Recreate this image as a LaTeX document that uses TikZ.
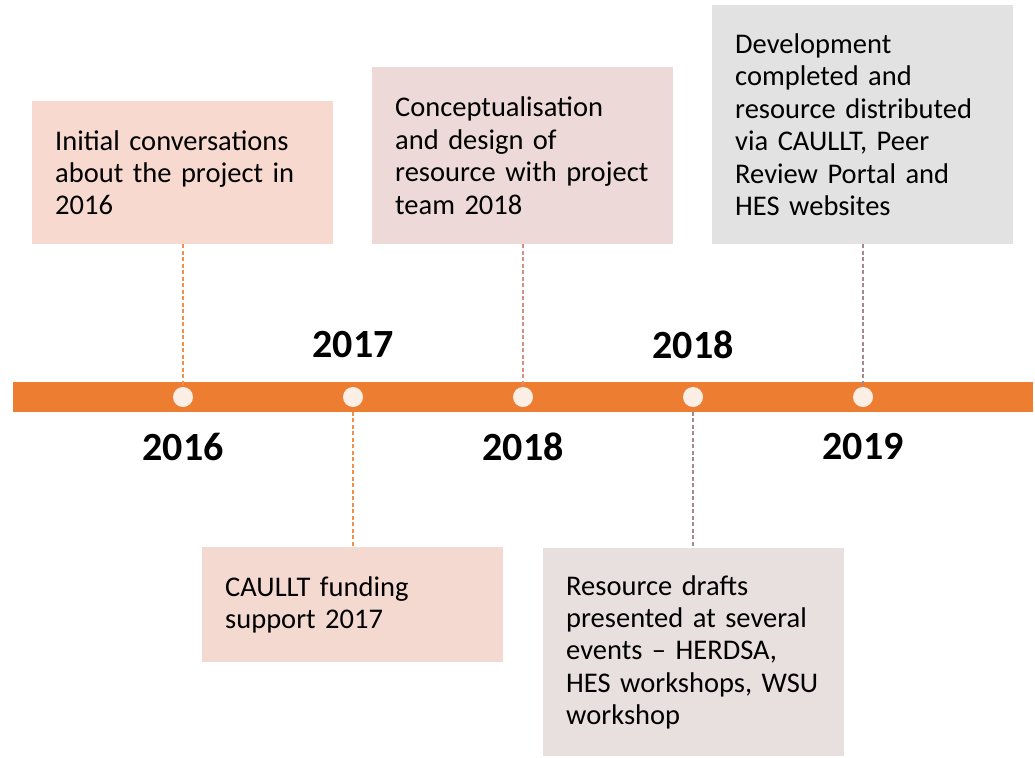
\documentclass[tikz,border=0pt]{standalone}
\usepackage{fontspec}
\setmainfont{Carlito}
\definecolor{barorange}{HTML}{ED7D31}
\definecolor{dotfill}{HTML}{FBEEE4}
\definecolor{boxA}{HTML}{F8D9CF}
\definecolor{boxB}{HTML}{EDDAD8}
\definecolor{boxC}{HTML}{E2E2E2}
\definecolor{boxD}{HTML}{F4D9D1}
\definecolor{boxE}{HTML}{E8DFDF}
\definecolor{dashA}{HTML}{F0904F}
\definecolor{dashB}{HTML}{D49080}
\definecolor{dashC}{HTML}{A88890}
\begin{document}
\begin{tikzpicture}[x=1pt,y=-1pt,
  evbox/.style={anchor=north west, inner xsep=23pt, inner ysep=0pt, text width=255pt,
    minimum width=301pt, align=left, font=\fontsize{28.5}{32.4}\selectfont, text=black},
  dot/.style={circle, fill=dotfill, minimum size=20pt, inner sep=0pt},
  yearlbl/.style={font=\fontsize{40}{44}\selectfont\bfseries, inner sep=0pt},
  connector/.style={dash pattern=on 4pt off 2.5pt, line width=1.2pt}]
\useasboundingbox (0,0) rectangle (1035,757);
\fill[barorange] (13,382) rectangle (1033,411.5);
\node[dot] (c1) at (183,397) {};
\node[dot] (c2) at (353,397) {};
\node[dot] (c3) at (523,397) {};
\node[dot] (c4) at (693,397) {};
\node[dot] (c5) at (863,397) {};

\node[evbox, fill=boxA, minimum height=143pt] (b1) at (32,101)
  {Initial conversations\\about the project in\\2016};
\node[evbox, fill=boxB, minimum height=177pt] (b2) at (372,67)
  {Conceptualisation\\and design of\\resource with project\\team 2018};
\node[evbox, fill=boxC, minimum height=239pt] (b3) at (712,5)
  {Development\\completed and\\resource distributed\\via CAULLT, Peer\\Review Portal and\\HES websites};
\node[evbox, fill=boxD, minimum height=115pt] (b4) at (202,547)
  {CAULLT funding\\support 2017};
\node[evbox, fill=boxE, minimum height=208pt] (b5) at (543,548)
  {Resource drafts\\presented at several\\events -- HERDSA,\\HES workshops, WSU\\workshop};

\draw[connector, dashA] (b1.south -| c1) -- (c1.north);
\draw[connector, dashB] (b2.south -| c3) -- (c3.north);
\draw[connector, dashC] (b3.south -| c5) -- (c5.north);
\draw[connector, dashA] (c2.south |- 0,411.5) -- (b4.north -| c2);
\draw[connector, dashC] (c4.south |- 0,411.5) -- (b5.north -| c4);

\node[yearlbl] (y1) at (183,447) {2016};
\node[yearlbl] (y2) at (353,345) {2017};
\node[yearlbl] (y3) at (523,447) {2018};
\node[yearlbl] (y4) at (693,345) {2018};
\node[yearlbl] (y5) at (863,447) {2019};
\end{tikzpicture}
\end{document}
